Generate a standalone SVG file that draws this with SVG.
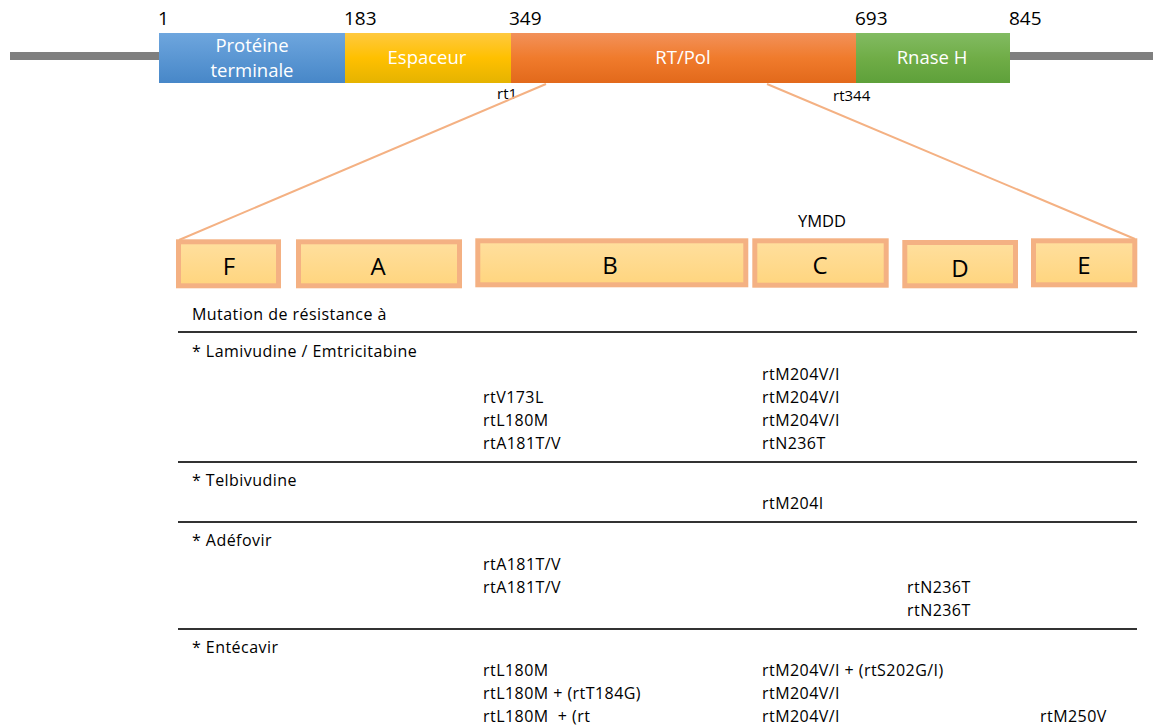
<svg xmlns="http://www.w3.org/2000/svg" width="1153" height="726" viewBox="0 0 1153 726">
<defs>
<linearGradient id="gBlue" x1="0" y1="0" x2="0" y2="1"><stop offset="0" stop-color="#6EA6DE"/><stop offset="1" stop-color="#4787C8"/></linearGradient>
<linearGradient id="gYel" x1="0" y1="0" x2="0" y2="1"><stop offset="0" stop-color="#FFC940"/><stop offset="0.5" stop-color="#FFC000"/><stop offset="1" stop-color="#E5B300"/></linearGradient>
<linearGradient id="gOra" x1="0" y1="0" x2="0" y2="1"><stop offset="0" stop-color="#F2915A"/><stop offset="0.5" stop-color="#F07B2C"/><stop offset="1" stop-color="#E2691B"/></linearGradient>
<linearGradient id="gGrn" x1="0" y1="0" x2="0" y2="1"><stop offset="0" stop-color="#82BB62"/><stop offset="0.5" stop-color="#70AD47"/><stop offset="1" stop-color="#5EA03A"/></linearGradient>
<linearGradient id="gBox" x1="0" y1="0" x2="0" y2="1"><stop offset="0" stop-color="#FFDF9E"/><stop offset="1" stop-color="#FFD57E"/></linearGradient>
</defs>
<style>
text{font-family:"Open Sans","Noto Sans",sans-serif;}
.num{font-size:19px;fill:#000;}
.seg{font-size:18.5px;fill:#fff;text-anchor:middle;}
.sm{font-size:15px;fill:#000;}
.box{fill:url(#gBox);stroke:#F4B183;stroke-width:5;}
.lt{font-size:24px;fill:#000;text-anchor:middle;}
.t{font-size:16px;fill:#000;letter-spacing:0.45px;}
.rule{stroke:#333;stroke-width:2;}
.zoom{stroke:#F4B183;stroke-width:2;fill:none;}
</style>
<rect width="1153" height="726" fill="#fff"/>
<g id="backbone">
<rect x="10" y="52" width="149" height="8" fill="#7F7F7F"/>
<rect x="1010" y="52" width="143" height="8" fill="#7F7F7F"/>
</g>
<g id="seg-terminal">
<rect x="159" y="33" width="186" height="50" fill="url(#gBlue)"/>
<text class="seg" x="252" y="52">Protéine</text>
<text class="seg" x="252" y="77">terminale</text>
</g>
<g id="seg-spacer">
<rect x="345" y="33" width="166" height="50" fill="url(#gYel)"/>
<text class="seg" x="427" y="64">Espaceur</text>
</g>
<g id="seg-rt">
<rect x="511" y="33" width="345" height="50" fill="url(#gOra)"/>
<text class="seg" x="683" y="64">RT/Pol</text>
</g>
<g id="seg-rnase">
<rect x="856" y="33" width="154" height="50" fill="url(#gGrn)"/>
<text class="seg" x="932" y="64">Rnase H</text>
</g>
<g id="positions">
<text class="num" x="158" y="25">1</text>
<text class="num" x="344" y="25">183</text>
<text class="num" x="509" y="25">349</text>
<text class="num" x="855" y="25">693</text>
<text class="num" x="1009" y="25">845</text>
<text class="sm" x="497" y="99">rt1</text>
<text class="sm" x="833" y="101">rt344</text>
</g>
<g id="connectors">
<line class="zoom" x1="546" y1="84" x2="179" y2="240"/>
<line class="zoom" x1="767" y1="84" x2="1135" y2="239"/>
</g>
<g id="box-F"><rect class="box" x="178.5" y="241.8" width="100" height="44"/><text class="lt" x="229" y="275">F</text></g>
<g id="box-A"><rect class="box" x="298.5" y="241.8" width="161" height="44"/><text class="lt" x="378" y="275">A</text></g>
<g id="box-B"><rect class="box" x="477.8" y="240.8" width="268" height="44"/><text class="lt" x="610" y="274">B</text></g>
<g id="box-C"><rect class="box" x="754.8" y="240.8" width="131.4" height="44.4"/><text class="lt" x="820" y="274">C</text><text x="822" y="227" style="font-size:16.5px;text-anchor:middle;">YMDD</text></g>
<g id="box-D"><rect class="box" x="904.8" y="242.5" width="110.7" height="43.3"/><text class="lt" x="960" y="277">D</text></g>
<g id="box-E"><rect class="box" x="1033.5" y="240.8" width="101.3" height="44"/><text class="lt" x="1084" y="274">E</text></g>
<g id="table">
<line class="rule" x1="178" y1="332" x2="1137" y2="332"/>
<line class="rule" x1="178" y1="462" x2="1137" y2="462"/>
<line class="rule" x1="178" y1="522" x2="1137" y2="522"/>
<line class="rule" x1="178" y1="629" x2="1137" y2="629"/>
<text class="t" x="192" y="320">Mutation de résistance à</text>
<text class="t" x="192" y="357">* Lamivudine / Emtricitabine</text>
<text class="t" x="762" y="380">rtM204V/I</text>
<text class="t" x="483" y="403">rtV173L</text>
<text class="t" x="762" y="403">rtM204V/I</text>
<text class="t" x="483" y="426">rtL180M</text>
<text class="t" x="762" y="426">rtM204V/I</text>
<text class="t" x="483" y="449">rtA181T/V</text>
<text class="t" x="762" y="449">rtN236T</text>
<text class="t" x="192" y="486">* Telbivudine</text>
<text class="t" x="762" y="509">rtM204I</text>
<text class="t" x="192" y="546">* Adéfovir</text>
<text class="t" x="483" y="570">rtA181T/V</text>
<text class="t" x="483" y="593">rtA181T/V</text>
<text class="t" x="907" y="593">rtN236T</text>
<text class="t" x="907" y="616">rtN236T</text>
<text class="t" x="192" y="653">* Entécavir</text>
<text class="t" x="483" y="676">rtL180M</text>
<text class="t" x="762" y="676">rtM204V/I + (rtS202G/I)</text>
<text class="t" x="483" y="699">rtL180M + (rtT184G)</text>
<text class="t" x="762" y="699">rtM204V/I</text>
<text class="t" x="483" y="722">rtL180M&#160; + (rt</text>
<text class="t" x="762" y="722">rtM204V/I</text>
<text class="t" x="1040" y="722">rtM250V</text>
</g>
</svg>
